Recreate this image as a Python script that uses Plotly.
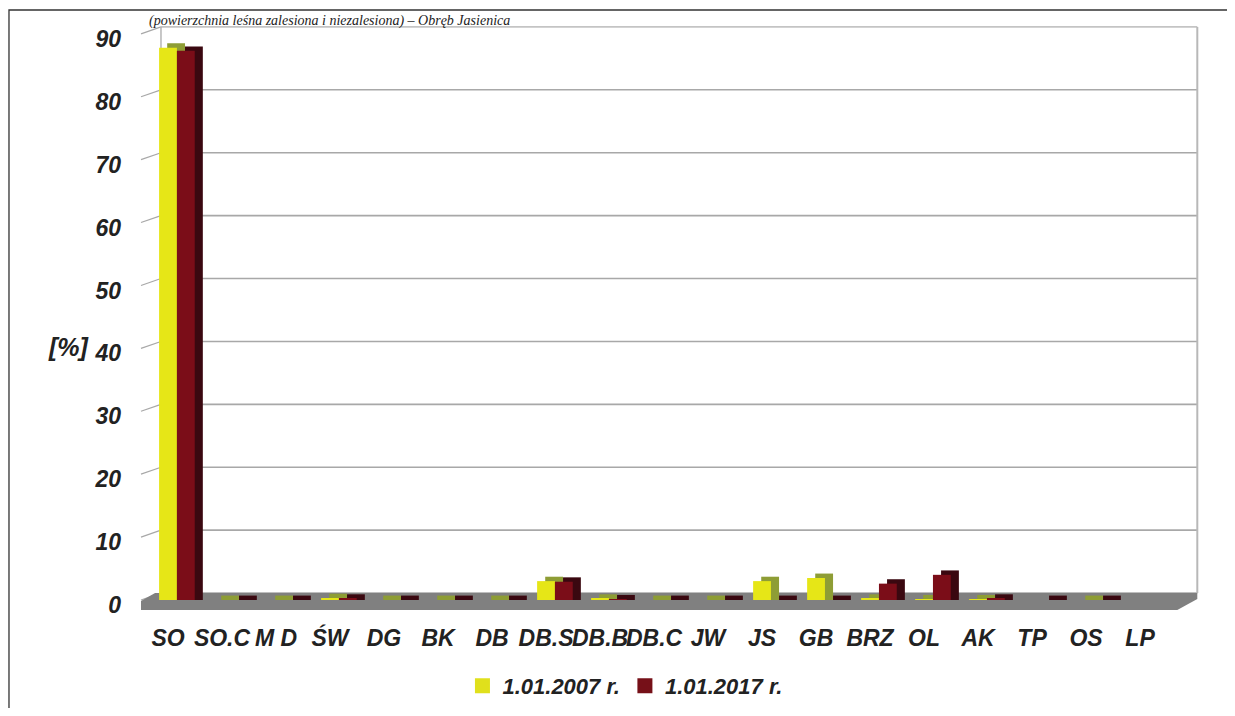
import plotly.graph_objects as go

# ---- data -------------------------------------------------------------
categories = ["SO", "SO.C", "M D", "ŚW", "DG", "BK", "DB", "DB.S", "DB.B", "DB.C",
              "JW", "JS", "GB", "BRZ", "OL", "AK", "TP", "OS", "LP"]
share_2007 = [87.8, 0.0, 0.0, 0.3, 0.0, 0.0, 0.0, 3.0, 0.2, 0.0,
              0.0, 3.0, 3.5, 0.2, 0.1, 0.1, None, 0.0, None]
share_2017 = [87.3, 0.0, 0.0, 0.2, 0.0, 0.0, 0.0, 2.9, 0.1, 0.0,
              0.0, 0.0, 0.0, 2.6, 4.0, 0.2, 0.0, 0.0, None]
y_ticks = [0, 10, 20, 30, 40, 50, 60, 70, 80, 90]
series_names = ["1.01.2007 r.", "1.01.2017 r."]
title_text = "(powierzchnia leśna zalesiona i niezalesiona) – Obręb Jasienica"

# ---- styling ----------------------------------------------------------
FONT = "Liberation Sans, Arial, sans-serif"
YEL, YEL_SIDE = "#e6e617", "#8e9d35"
RED, RED_SIDE = "#7b0d18", "#3a0810"
W = 0.33               # bar front width (category units)
BDX, BDY = 0.15, 0.7   # bar depth offsets
DX, DY = 0.37, 1.1     # wall depth offsets
X_LO, X_HI = -0.5185, 19.11
WALL_R = 19.06
TXT = "#222222"

x_idx = list(range(len(categories)))


def depth(vals):
    return [None if v is None else v + BDY for v in vals]


fig = go.Figure()
fig.add_trace(go.Bar(x=x_idx, y=depth(share_2007), offset=-W / 2 + BDX, width=W,
                     marker=dict(color=YEL_SIDE, line=dict(width=0)),
                     showlegend=False, hoverinfo="skip"))
fig.add_trace(go.Bar(x=x_idx, y=share_2007, offset=-W / 2, width=W, name=series_names[0],
                     marker=dict(color=YEL, line=dict(width=0)), showlegend=False))
fig.add_trace(go.Bar(x=x_idx, y=depth(share_2017), offset=W / 2 + BDX, width=W,
                     marker=dict(color=RED_SIDE, line=dict(width=0)),
                     showlegend=False, hoverinfo="skip"))
fig.add_trace(go.Bar(x=x_idx, y=share_2017, offset=W / 2, width=W, name=series_names[1],
                     marker=dict(color=RED, line=dict(width=0)), showlegend=False))
# legend entries (square swatches)
for name, col in zip(series_names, ["#e0e01c", "#761018"]):
    fig.add_trace(go.Scatter(x=[None], y=[None], mode="markers", name=name,
                             marker=dict(symbol="square", size=15, color=col)))

shapes = []
for v in y_ticks:
    col = "#c4c4c4" if v == y_ticks[-1] else "#a8a8a8"
    shapes.append(dict(type="line", xref="x", yref="y", x0=-0.5 + DX, x1=WALL_R,
                       y0=v + DY, y1=v + DY, line=dict(color=col, width=1.6), layer="between"))
    shapes.append(dict(type="line", xref="x", yref="y", x0=-0.5, x1=-0.5 + DX,
                       y0=v, y1=v + DY, line=dict(color="#a8a8a8", width=1.2), layer="between"))
shapes.append(dict(type="line", xref="x", yref="y", x0=-0.5 + DX, x1=-0.5 + DX,
                   y0=DY, y1=y_ticks[-1] + DY, line=dict(color="#b0b0b0", width=1.4), layer="between"))
shapes.append(dict(type="line", xref="x", yref="y", x0=WALL_R, x1=WALL_R,
                   y0=DY, y1=y_ticks[-1] + DY, line=dict(color="#b8b8b8", width=2), layer="between"))
shapes.append(dict(type="path", xref="x", yref="y",
                   path="M -0.5,-1.59 L -0.5,-0.16 L -0.24,1.11 L %.2f,1.11 L %.2f,0.16 L 18.69,-1.59 Z" % (WALL_R, WALL_R),
                   fillcolor="#808080", line=dict(width=0), layer="between"))
# outer frame
shapes.append(dict(type="rect", xref="paper", yref="paper", x0=-0.1236, x1=1.2, y0=1.0169, y1=-0.3,
                   line=dict(color="#333333", width=1.3), fillcolor="rgba(0,0,0,0)"))

tick_font = dict(family=FONT, size=23, color=TXT, weight="bold", style="italic")

fig.update_layout(
    width=1227, height=700, autosize=False,
    margin=dict(l=132, r=35, t=12, b=96, autoexpand=False),
    paper_bgcolor="white", plot_bgcolor="white",
    barmode="overlay",
    shapes=shapes,
    showlegend=True,
    legend=dict(orientation="h", x=0.4575, xanchor="center", y=-0.125, yanchor="middle",
                font=dict(family=FONT, size=22, color=TXT, weight="bold", style="italic"),
                bgcolor="rgba(0,0,0,0)", itemwidth=30, tracegroupgap=0),
    xaxis=dict(range=[X_LO, X_HI], tickvals=x_idx, ticktext=categories,
               showgrid=False, zeroline=False, showline=False, ticks="",
               tickangle=0, automargin=False,
               ticklabelstandoff=10, tickfont=tick_font),
    yaxis=dict(range=[-1.91, 92.2], tickvals=y_ticks,
               showgrid=False, zeroline=False, showline=False, ticks="",
               automargin=False, ticklabelshift=5,
               ticklabelstandoff=18, tickfont=tick_font),
    annotations=[
        dict(text="[%]", xref="paper", yref="paper", x=-0.067, y=0.4476,
             xanchor="center", yanchor="middle", showarrow=False,
             font=dict(family=FONT, size=25, color=TXT, weight="bold", style="italic")),
        dict(text=title_text,
             xref="paper", yref="paper", x=0.351, y=1.0152, xanchor="right", yanchor="top",
             showarrow=False,
             font=dict(family="Liberation Serif, Times New Roman, serif", size=14,
                       color=TXT, style="italic")),
    ],
)

fig.write_html("out.html")
